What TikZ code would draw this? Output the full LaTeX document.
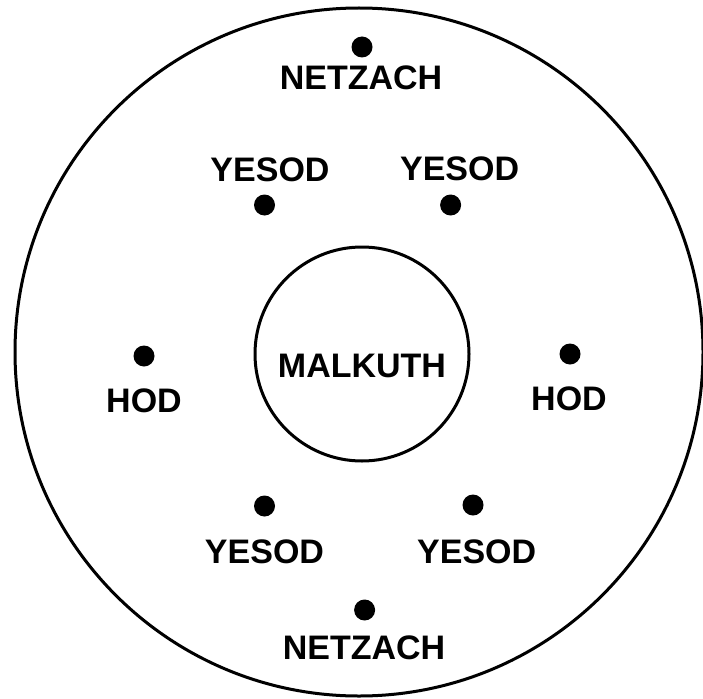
\documentclass[tikz,border=0pt]{standalone}
\usepackage{fontspec}
\setmainfont{Liberation Sans}
\begin{document}
\begin{tikzpicture}[x=1pt,y=-1pt,
  ring/.style={draw=black,line width=3pt,circle,inner sep=0pt},
  dot/.style={fill=black,circle,inner sep=0pt,minimum size=21pt},
  lbl/.style={anchor=base,inner sep=0pt,font=\fontsize{34}{34}\selectfont\bfseries}]
\useasboundingbox[fill=white] (0,0) rectangle (703,698);
\node[ring,minimum size=688pt] (outer) at (359,352) {};
\node[ring,minimum size=214pt] (inner) at (362,354) {};
\node[lbl] (malkuth) at (362,377) {MALKUTH};
% top netzach
\node[dot] (d1) at (362,47) {};
\node[lbl] (l1) at (361,90) {NETZACH};
% upper yesods
\node[lbl] (l2) at (270,181) {YESOD};
\node[dot] (d2) at (264.5,205) {};
\node[lbl] (l3) at (459.6,180) {YESOD};
\node[dot] (d3) at (450.6,205) {};
% hods
\node[dot] (d4) at (144,356) {};
\node[lbl] (l4) at (144,412) {HOD};
\node[dot] (d5) at (570,354) {};
\node[lbl] (l5) at (569,410) {HOD};
% lower yesods
\node[dot] (d6) at (264.5,506) {};
\node[lbl] (l6) at (264.5,563.5) {YESOD};
\node[dot] (d7) at (473,505) {};
\node[lbl] (l7) at (476.7,563.5) {YESOD};
% bottom netzach
\node[dot] (d8) at (364.6,610) {};
\node[lbl] (l8) at (364,659) {NETZACH};
\end{tikzpicture}
\end{document}
